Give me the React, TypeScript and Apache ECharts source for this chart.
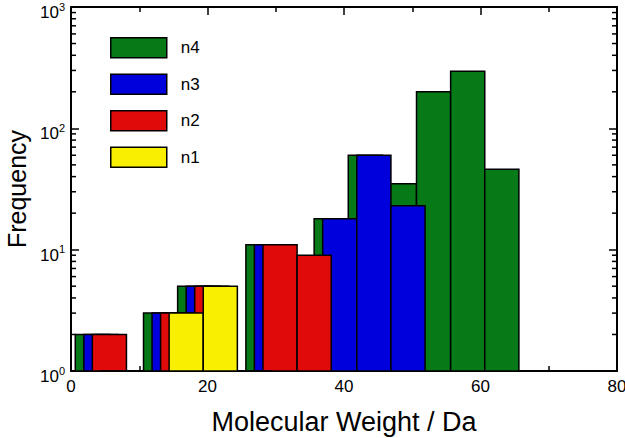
import React, { useEffect, useRef } from "react";
import * as echarts from "echarts";

// Histogram bins (lower edge of each 5 Da bin)
const binStarts = [0, 5, 10, 15, 20, 25, 30, 35, 40, 45, 50, 55, 60];
const binWidth = 5;

// Frequencies per bin (null = no bar)
const n4 = [2, null, 3, 5, null, 11, null, 18, 60, 35, 200, 295, 46];
const n3 = [2, null, 3, 5, null, 11, null, 18, 60, 23, null, null, null];
const n2 = [2, null, 3, 5, null, 11, 9, null, null, null, null, null, null];
const n1 = [1, null, 3, 5, 1, null, null, null, null, null, null, null, null];

const seriesNames = ["n4", "n3", "n2", "n1"];
const seriesValues = [n4, n3, n2, n1];
// offset of each series' bars inside a bin (Da)
const seriesOffsets = [0.625, 1.875, 3.125, 4.375];
const seriesColors = ["#057A17", "#0000DC", "#E00A0A", "#F8F000"];

// log axis minor tick values
const minorTickValues = [2, 3, 4, 5, 6, 7, 8, 9, 20, 30, 40, 50, 60, 70, 80, 90, 200, 300, 400, 500, 600, 700, 800, 900];

const X_MIN = 0;
const X_MAX = 80;
const FONT = "'Liberation Sans', Arial, Helvetica, sans-serif";

export default function App() {
  const ref = useRef<HTMLDivElement>(null);

  useEffect(() => {
    if (!ref.current) return;
    const chart = echarts.init(ref.current, null, { renderer: "svg" });

    const barSeries = seriesNames.map((name, si) => {
      const data: number[][] = [];
      binStarts.forEach((b, i) => {
        const v = seriesValues[si][i];
        if (v == null) return;
        const x0 = b + seriesOffsets[si];
        data.push([x0, x0 + binWidth, v]);
      });
      const color = seriesColors[si];
      return {
        type: "custom",
        name,
        xAxisIndex: 0,
        yAxisIndex: 0,
        itemStyle: { color, borderColor: "#000", borderWidth: 1.5 },
        encode: { x: [0, 1], y: 2 },
        data,
        z: 2 + si,
        renderItem: (params: any, api: any) => {
          const p0 = api.coord([api.value(0), api.value(2)]);
          const p1 = api.coord([api.value(1), 1]);
          return {
            type: "rect",
            shape: { x: p0[0], y: p0[1], width: p1[0] - p0[0], height: p1[1] - p0[1] },
            style: { fill: color, stroke: "#000", lineWidth: 1.5 },
          };
        },
      };
    });

    const minorTickSeries = {
      type: "custom",
      name: "minorTicks",
      silent: true,
      xAxisIndex: 0,
      yAxisIndex: 0,
      z: 10,
      encode: { x: 0, y: 1 },
      data: minorTickValues.map((v) => [X_MIN, v]),
      renderItem: (params: any, api: any) => {
        const v = api.value(1);
        const pl = api.coord([X_MIN, v]);
        const pr = api.coord([X_MAX, v]);
        const st = { stroke: "#000", lineWidth: 1.5 };
        return {
          type: "group",
          children: [
            { type: "line", shape: { x1: pl[0], y1: pl[1], x2: pl[0] + 5, y2: pl[1] }, style: st },
            { type: "line", shape: { x1: pr[0] - 5, y1: pr[1], x2: pr[0], y2: pr[1] }, style: st },
          ],
        };
      },
    };

    const axisLine = { show: true, onZero: false, lineStyle: { color: "#000", width: 2 } };
    const tickStyle = { color: "#000", width: 1.5 };

    const supFormatter = (v: number) => "{m|10}{s|" + Math.round(Math.log10(v)) + "}";

    chart.setOption({
      animation: false,
      textStyle: { fontFamily: FONT },
      grid: { left: 71, right: 8, top: 7, bottom: 67, containLabel: false, outerBoundsMode: "none" },
      legend: {
        data: seriesNames,
        orient: "vertical",
        left: 110,
        top: 37,
        padding: 0,
        itemWidth: 56,
        itemHeight: 20,
        itemGap: 15,
        icon: "rect",
        selectedMode: false,
        itemStyle: { borderColor: "#000", borderWidth: 1.5 },
        textStyle: { fontSize: 17, color: "#000", fontFamily: FONT, padding: [0, 0, 0, 9] },
      },
      xAxis: [
        {
          type: "value",
          position: "bottom",
          min: X_MIN,
          max: X_MAX,
          interval: 20,
          axisLine,
          axisTick: { show: true, inside: true, length: 8, lineStyle: tickStyle },
          minorTick: { show: true, splitNumber: 2, length: 5, lineStyle: tickStyle },
          splitLine: { show: false },
          minorSplitLine: { show: false },
          axisLabel: { fontSize: 17, color: "#000", margin: 7, fontFamily: FONT },
          name: "Molecular Weight / Da",
          nameLocation: "middle",
          nameGap: 37,
          nameTextStyle: { fontSize: 27, color: "#000", fontFamily: FONT },
        },
        {
          type: "value",
          position: "top",
          min: X_MIN,
          max: X_MAX,
          interval: 20,
          axisLine,
          axisTick: { show: true, inside: true, length: 8, lineStyle: tickStyle },
          minorTick: { show: true, splitNumber: 2, length: 5, lineStyle: tickStyle },
          splitLine: { show: false },
          axisLabel: { show: false },
        },
      ],
      yAxis: [
        {
          type: "log",
          logBase: 10,
          position: "left",
          min: 1,
          max: 1000,
          axisLine,
          axisTick: { show: true, inside: true, length: 8, lineStyle: tickStyle },
          splitLine: { show: false },
          axisLabel: {
            color: "#000",
            margin: 6,
            padding: [8, 0, 0, 0],
            formatter: supFormatter,
            rich: {
              m: { fontSize: 17, lineHeight: 20, verticalAlign: "bottom", fontFamily: FONT, color: "#000" },
              s: { fontSize: 11, lineHeight: 7, verticalAlign: "top", fontFamily: FONT, color: "#000" },
            },
          },
          name: "Frequency",
          nameLocation: "middle",
          nameGap: 42,
          nameRotate: 90,
          nameTextStyle: { fontSize: 25, color: "#000", fontFamily: FONT },
        },
        {
          type: "log",
          logBase: 10,
          position: "right",
          min: 1,
          max: 1000,
          axisLine,
          axisTick: { show: true, inside: true, length: 8, lineStyle: tickStyle },
          splitLine: { show: false },
          axisLabel: { show: false },
        },
      ],
      series: [...barSeries, minorTickSeries],
    });

    return () => chart.dispose();
  }, []);

  return (
    <div
      ref={ref}
      style={{ position: "fixed", left: 0, top: 0, width: 625, height: 438, background: "#fff" }}
    />
  );
}
